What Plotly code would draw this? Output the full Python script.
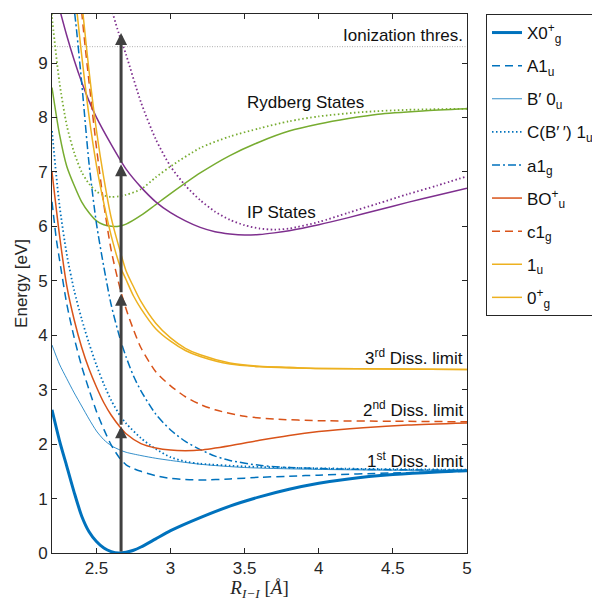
import plotly.graph_objects as go

# ---------------------------------------------------------------------------
# Potential energy curves of I2 (energy in eV vs. internuclear distance in Å)
# ---------------------------------------------------------------------------

# Ground state X0g+
R_X0g = [2.20, 2.25, 2.30, 2.35, 2.40, 2.45, 2.50, 2.55, 2.60, 2.65, 2.70, 2.75, 2.80,
         2.90, 3.00, 3.20, 3.40, 3.60, 3.80, 4.00, 4.20, 4.50, 4.80, 5.00]
E_X0g = [2.63, 2.07, 1.59, 1.11, 0.68, 0.39, 0.21, 0.09, 0.025, 0.00, 0.015, 0.05, 0.11,
         0.26, 0.41, 0.65, 0.86, 1.03, 1.17, 1.28, 1.36, 1.44, 1.49, 1.51]

# A1u
R_A1u = [2.20, 2.23, 2.25, 2.30, 2.35, 2.40, 2.45, 2.50, 2.55, 2.60, 2.66, 2.70,
         2.75, 2.80, 2.90, 3.00, 3.10, 3.20, 3.40, 3.60, 3.80, 4.00, 4.50, 5.00]
E_A1u = [6.45, 5.75, 5.40, 4.57, 3.95, 3.43, 3.00, 2.60, 2.27, 1.98, 1.73, 1.62,
         1.55, 1.50, 1.42, 1.37, 1.35, 1.34, 1.36, 1.39, 1.41, 1.43, 1.47, 1.50]

# B' 0u
R_Bp0u = [2.20, 2.25, 2.30, 2.35, 2.40, 2.45, 2.50, 2.55, 2.60, 2.66, 2.70, 2.80,
          2.90, 3.00, 3.20, 3.50, 3.90, 4.50, 5.00]
E_Bp0u = [3.82, 3.47, 3.20, 2.94, 2.70, 2.46, 2.24, 2.08, 1.97, 1.89, 1.85, 1.79,
          1.74, 1.70, 1.63, 1.57, 1.54, 1.52, 1.52]

# C(B'') 1u
R_C1u = [2.20, 2.25, 2.30, 2.35, 2.40, 2.45, 2.50, 2.55, 2.60, 2.66, 2.70, 2.80,
         2.90, 3.00, 3.10, 3.20, 3.50, 3.90, 4.50, 5.00]
E_C1u = [7.75, 6.40, 5.48, 4.82, 4.30, 3.85, 3.45, 3.10, 2.80, 2.52, 2.38, 2.11,
         1.91, 1.76, 1.68, 1.64, 1.59, 1.56, 1.54, 1.53]

# a1g
R_a1g = [2.34, 2.36, 2.40, 2.45, 2.50, 2.55, 2.60, 2.66, 2.70, 2.75, 2.80, 2.90,
         3.00, 3.10, 3.20, 3.30, 3.40, 3.60, 3.80, 4.20, 5.00]
E_a1g = [10.20, 9.75, 8.65, 7.15, 6.05, 5.25, 4.55, 3.93, 3.60, 3.25, 2.98, 2.55,
         2.26, 2.05, 1.90, 1.78, 1.70, 1.61, 1.57, 1.54, 1.52]

# B0u+
R_B0u = [2.20, 2.25, 2.30, 2.35, 2.40, 2.45, 2.50, 2.55, 2.60, 2.66, 2.70, 2.80,
         2.90, 3.00, 3.10, 3.20, 3.40, 3.60, 3.80, 4.00, 4.30, 4.60, 5.00]
E_B0u = [7.00, 5.85, 4.90, 4.28, 3.78, 3.38, 3.05, 2.76, 2.53, 2.31, 2.19, 2.01,
         1.93, 1.89, 1.88, 1.89, 1.97, 2.07, 2.16, 2.23, 2.30, 2.35, 2.39]

# c1g
R_c1g = [2.40, 2.42, 2.45, 2.50, 2.55, 2.60, 2.66, 2.70, 2.75, 2.80, 2.90, 3.00,
         3.10, 3.20, 3.30, 3.50, 3.70, 4.00, 4.50, 5.00]
E_c1g = [9.95, 9.40, 8.65, 7.45, 6.40, 5.55, 4.85, 4.48, 4.10, 3.77, 3.33, 3.07,
         2.87, 2.73, 2.63, 2.51, 2.46, 2.43, 2.42, 2.41]

# 1u (third dissociation limit)
R_1u = [2.35, 2.37, 2.40, 2.45, 2.50, 2.55, 2.60, 2.66, 2.70, 2.75, 2.80, 2.90,
        3.00, 3.10, 3.20, 3.40, 3.60, 3.80, 4.00, 4.50, 5.00]
E_1u = [10.40, 9.90, 9.15, 8.02, 7.12, 6.42, 5.82, 5.26, 5.02, 4.72, 4.49, 4.12,
        3.89, 3.72, 3.61, 3.47, 3.42, 3.40, 3.39, 3.38, 3.37]

# 0g+ (third dissociation limit)
R_0g = [2.39, 2.41, 2.45, 2.50, 2.55, 2.60, 2.66, 2.70, 2.75, 2.80, 2.90, 3.00,
        3.10, 3.20, 3.40, 3.60, 3.80, 4.00, 4.50, 5.00]
E_0g = [10.40, 9.88, 8.85, 7.76, 6.88, 6.15, 5.54, 5.18, 4.89, 4.62, 4.22, 3.95,
        3.76, 3.64, 3.49, 3.43, 3.41, 3.39, 3.38, 3.37]

# Rydberg states
R_ryd1 = [2.20, 2.25, 2.30, 2.35, 2.40, 2.45, 2.50, 2.55, 2.60, 2.65, 2.70, 2.80,
          2.90, 3.00, 3.20, 3.40, 3.60, 3.80, 4.00, 4.20, 4.40, 4.70, 5.00]
E_ryd1 = [8.55, 7.70, 7.10, 6.75, 6.45, 6.25, 6.10, 6.03, 6.00, 6.00, 6.04, 6.20,
          6.40, 6.60, 6.98, 7.30, 7.55, 7.75, 7.88, 7.98, 8.06, 8.12, 8.16]
R_ryd2 = [2.19, 2.20, 2.25, 2.30, 2.35, 2.40, 2.45, 2.50, 2.55, 2.60, 2.65, 2.70,
          2.80, 2.90, 3.00, 3.20, 3.40, 3.60, 3.80, 4.00, 4.30, 4.60, 5.00]
E_ryd2 = [10.20, 9.85, 8.65, 7.85, 7.35, 7.00, 6.78, 6.64, 6.57, 6.54, 6.55, 6.58,
          6.68, 6.90, 7.10, 7.44, 7.65, 7.80, 7.93, 8.02, 8.10, 8.14, 8.16]

# Ion-pair (IP) states
R_ip1 = [2.25, 2.30, 2.35, 2.40, 2.45, 2.50, 2.60, 2.70, 2.80, 2.90, 3.00, 3.10,
         3.20, 3.30, 3.40, 3.50, 3.60, 3.70, 3.80, 4.00, 4.20, 4.40, 4.60, 4.80, 5.00]
E_ip1 = [10.00, 9.50, 9.05, 8.65, 8.30, 8.00, 7.50, 7.05, 6.72, 6.45, 6.25, 6.10,
         5.98, 5.90, 5.86, 5.84, 5.85, 5.88, 5.92, 6.03, 6.16, 6.30, 6.44, 6.57, 6.70]
R_ip2 = [2.60, 2.65, 2.70, 2.80, 2.90, 3.00, 3.10, 3.20, 3.30, 3.40, 3.50, 3.60,
         3.70, 3.80, 4.00, 4.20, 4.40, 4.60, 4.80, 5.00]
E_ip2 = [10.00, 9.55, 9.15, 8.28, 7.60, 7.10, 6.75, 6.48, 6.27, 6.12, 6.02, 5.96,
         5.94, 5.96, 6.08, 6.25, 6.42, 6.59, 6.75, 6.92]

# Ionization threshold and multiphoton excitation at the Franck-Condon point
E_ion = 9.3
R_FC = 2.666
photon_tips = [2.33, 4.76, 7.14, 9.55]

# Text labels: (text, x, y, anchor)
labels = [
    ("Ionization thres.", 4.985, 9.50, "right"),
    ("Rydberg States", 3.50, 8.27, "left"),
    ("IP States", 3.50, 6.25, "left"),
    ("3<sup>rd</sup> Diss. limit", 4.985, 3.60, "right"),
    ("2<sup>nd</sup> Diss. limit", 4.985, 2.65, "right"),
    ("1<sup>st</sup> Diss. limit", 4.985, 1.70, "right"),
]

BLUE = "#0072BD"
ORANGE = "#D95319"
YELLOW = "#EDB120"
GREEN = "#77AC30"
PURPLE = "#7E2F8E"
INK = "#262626"
FONT = "Liberation Sans, Arial, sans-serif"
FS = 17

DASH = "8px,5px"
DOT = "1.5px,2.5px"
DASHDOT = "8px,3px,2px,3px"

fig = go.Figure()


def curve(R, E, color, width, dash="solid", name=None):
    fig.add_trace(go.Scatter(
        x=R, y=E, mode="lines",
        line=dict(color=color, width=width, dash=dash, shape="spline", smoothing=0.7),
        name=name or "", showlegend=name is not None,
        legendgroup=name or None, hoverinfo="skip",
    ))


# threshold line
fig.add_trace(go.Scatter(x=[2.2, 5.0], y=[E_ion, E_ion], mode="lines",
                         line=dict(color="#9a9a9a", width=0.8, dash="1px,1.5px"),
                         showlegend=False, hoverinfo="skip"))

# states without legend entry
curve(R_ryd1, E_ryd1, GREEN, 1.5)
curve(R_ryd2, E_ryd2, GREEN, 1.8, DOT)
curve(R_ip1, E_ip1, PURPLE, 1.5)
curve(R_ip2, E_ip2, PURPLE, 1.8, DOT)

# states with legend entries
curve(R_X0g, E_X0g, BLUE, 3, name="X0<sup>+</sup><sub>g</sub>")
curve(R_A1u, E_A1u, BLUE, 1.5, DASH, name="A1<sub>u</sub>")
curve(R_Bp0u, E_Bp0u, BLUE, 0.8, name="B\u2032 0<sub>u</sub>")
curve(R_C1u, E_C1u, BLUE, 1.8, DOT, name="C(B\u2032\u2009\u2032) 1<sub>u</sub>")
curve(R_a1g, E_a1g, BLUE, 1.5, DASHDOT, name="a1<sub>g</sub>")
curve(R_B0u, E_B0u, ORANGE, 1.5, name="BO<sup>+</sup><sub>u</sub>")
curve(R_c1g, E_c1g, ORANGE, 1.5, DASH, name="c1<sub>g</sub>")
curve(R_1u, E_1u, YELLOW, 1.5, name="1<sub>u</sub>")
curve(R_0g, E_0g, YELLOW, 1.5, name="0<sup>+</sup><sub>g</sub>")

# photon arrows
prev = 0.0
for tip in photon_tips:
    fig.add_annotation(x=R_FC, y=tip, ax=R_FC, ay=prev, xref="x", yref="y",
                       axref="x", ayref="y", text="", showarrow=True,
                       arrowhead=2, arrowsize=0.8, arrowwidth=3,
                       arrowcolor="#404040")
    prev = tip

for txt, x, y, anchor in labels:
    fig.add_annotation(x=x, y=y, xref="x", yref="y", text=txt, showarrow=False,
                       xanchor=anchor, yanchor="middle",
                       font=dict(family=FONT, size=FS, color="#111111"))

axis_common = dict(showline=True, linecolor=INK, linewidth=1, mirror="ticks",
                   ticks="inside", ticklen=5, tickcolor=INK, showgrid=False,
                   zeroline=False, tickfont=dict(family=FONT, size=FS, color=INK))

fig.update_xaxes(range=[2.2, 5.0], tickvals=[2.5, 3, 3.5, 4, 4.5, 5],
                 ticktext=["2.5", "3", "3.5", "4", "4.5", "5"],
                 title=dict(text="<i>R</i><sub><i>I\u2212I</i></sub> [<i>\u00c5</i>]",
                            font=dict(family="Liberation Serif, DejaVu Serif, serif",
                                      size=19, color=INK), standoff=6),
                 **axis_common)
fig.update_yaxes(range=[0, 9.9], tickvals=list(range(10)),
                 title=dict(text="Energy [eV]", font=dict(family=FONT, size=FS, color=INK),
                            standoff=6),
                 **axis_common)

fig.update_layout(
    width=592, height=601,
    margin=dict(l=52, r=125, t=14, b=48, autoexpand=False),
    plot_bgcolor="white", paper_bgcolor="white",
    showlegend=True,
    legend=dict(x=1.0458, y=1.0, xanchor="left", yanchor="top",
                bordercolor=INK, borderwidth=1, bgcolor="white",
                font=dict(family=FONT, size=FS, color="#111111"),
                itemwidth=30, tracegroupgap=8, traceorder="grouped"),
)

fig.write_html("out.html")
